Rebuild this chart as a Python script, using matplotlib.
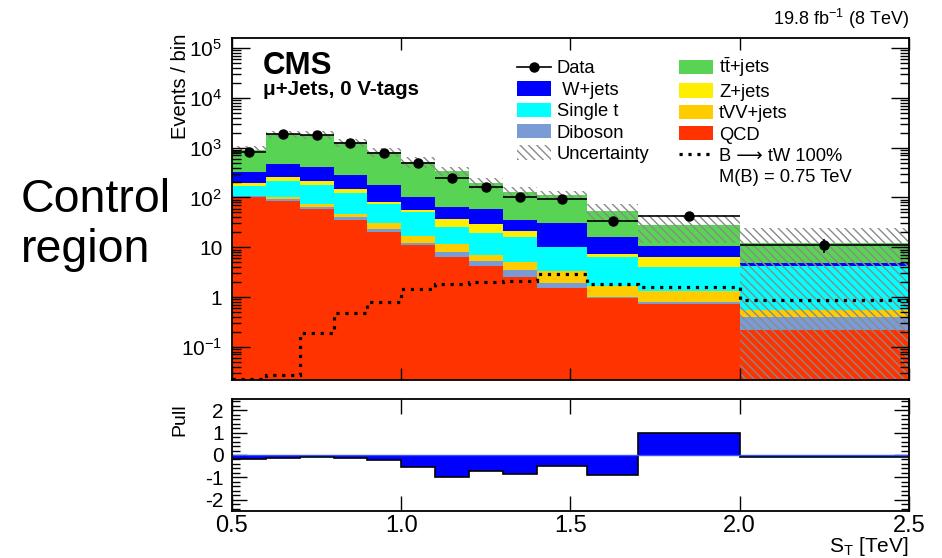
"""
S_T distribution in the mu+jets, 0 V-tag control region with pull panel.
"""

import matplotlib
matplotlib.use("Agg")
import matplotlib.pyplot as plt
import numpy as np
from matplotlib import font_manager
from matplotlib.lines import Line2D
from matplotlib.patches import Patch
from matplotlib.ticker import FixedLocator, LogLocator, MultipleLocator, NullFormatter

# Binning (TeV)
bin_edges = [0.5, 0.6, 0.7, 0.8, 0.9, 1.0, 1.1, 1.2, 1.3, 1.4, 1.55, 1.7, 2.0, 2.5]

# Background yields per bin, bottom of the stack first
qcd = [103, 86, 60, 36, 20.5, 11, 6.45, 4.2, 2.56, 1.5, 0.94, 0.71, 0.22]
diboson = [3, 7, 5, 4, 2.5, 1.3, 1.45, 1.1, 0.94, 0.38, 0.07, 0.07, 0.17]
tvv_jets = [2, 7, 8.5, 6.5, 7, 4.7, 3.5, 1.7, 1.5, 1.5, 0.65, 0.54, 0.16]
single_t = [64, 116, 101, 74.5, 43.5, 34, 13.6, 12, 10.8, 6.6, 4.8, 2.74, 3.7]
z_jets = [26, 39, 39, 24, 8.5, 5, 12, 10, 5.7, 0.1, 0.85, 2.4, 0.02]
w_jets = [132, 220, 201, 137, 96, 44, 26, 29.5, 13.5, 21, 8.9, 4.25, 0.64]
ttbar_jets = [590, 1395, 1405, 998, 637, 420, 282, 139, 95, 81, 37, 17.3, 7.1]

# Total background uncertainty (absolute, per bin)
bkg_unc = [150, 300, 300, 230, 150, 120, 70, 50, 33, 20, 20, 16, 12]

# Observed events
data = [830, 1860, 1800, 1250, 767, 484, 250, 164, 100, 93, 34, 43, 11]

# Signal: B -> tW 100%, M(B) = 0.75 TeV
signal = [0.0225, 0.027, 0.186, 0.47, 0.80, 1.43, 1.8, 2.0, 2.07, 2.9, 1.85, 1.61, 0.87]

# (data - bkg) / sigma
pull = [-0.18, -0.13, -0.09, -0.15, -0.24, -0.52, -0.98, -0.72, -0.87, -0.48, -0.9, 1.0, -0.07]

y_tick_vals = [0.1, 1, 10, 100, 1e3, 1e4, 1e5]
y_tick_labels = [r"$10^{-1}$", "1", "10", r"$10^{2}$", r"$10^{3}$", r"$10^{4}$", r"$10^{5}$"]
x_tick_vals = [0.5, 1.0, 1.5, 2.0, 2.5]
x_tick_labels = ["0.5", "1.0", "1.5", "2.0", "2.5"]
pull_tick_vals = [-2, -1, 0, 1, 2]
pull_tick_labels = ["-2", "-1", "0", "1", "2"]

FAMILY = ["Liberation Sans", "DejaVu Sans"]
installed = {f.name for f in font_manager.fontManager.ttflist}
NARROW = ["Liberation Sans Narrow", "DejaVu Sans"] if "Liberation Sans Narrow" in installed else FAMILY

plt.rcParams["font.family"] = FAMILY
plt.rcParams["mathtext.fontset"] = "custom"
plt.rcParams["mathtext.rm"] = "Liberation Sans"
plt.rcParams["mathtext.it"] = "Liberation Sans:italic"
plt.rcParams["mathtext.bf"] = "Liberation Sans:bold"
plt.rcParams["mathtext.default"] = "regular"
plt.rcParams["hatch.linewidth"] = 1.0

W, H = 942, 558
HATCH = "\\\\\\\\"
HATCH_COLOR = "#8a8a8a"


def fig_xy(x, y):
    return x / W, 1 - y / H


edges = np.array(bin_edges)
centers = 0.5 * (edges[1:] + edges[:-1])
half_w = 0.5 * np.diff(edges)

fig = plt.figure(figsize=(W / 100, H / 100), dpi=100)
ax = fig.add_axes([232 / W, 1 - 380 / H, 677 / W, 342 / H])
ax_pull = fig.add_axes([232 / W, 1 - 511 / H, 677 / W, 112 / H])

# Stacked backgrounds
layers = [
    (qcd, "#FF3300"),
    (diboson, "#7B9BD4"),
    (tvv_jets, "#FFCC00"),
    (single_t, "#00FFFF"),
    (z_jets, "#FFEE00"),
    (w_jets, "#0000FF"),
    (ttbar_jets, "#59D354"),
]
bottom = np.zeros(len(centers))
for vals, color in layers:
    top = bottom + np.array(vals)
    ax.stairs(top, edges, baseline=np.maximum(bottom, 1e-4), fill=True,
              color=color, lw=0)
    bottom = top
total = bottom

# Uncertainty band
unc = np.array(bkg_unc)
ax.stairs(total + unc, edges, baseline=np.clip(total - unc, 1e-4, None),
          fill=True, facecolor="none", edgecolor=HATCH_COLOR, hatch=HATCH, lw=0)

# Signal
sig_style = (0, (1.0, 1.8))
ax.stairs(signal, edges, baseline=None, color="k", lw=2.3, linestyle=sig_style)

# Data
data_arr = np.array(data, dtype=float)
ax.errorbar(centers, data_arr, xerr=half_w, yerr=np.sqrt(data_arr), fmt="o",
            color="k", ms=6.5, lw=1.2, capsize=0)

ax.set_yscale("log")
ax.set_xlim(0.5, 2.5)
ax.set_ylim(0.0215, 1.6e5)
ax.yaxis.set_major_locator(FixedLocator(y_tick_vals))
ax.set_yticklabels(y_tick_labels, fontsize=15)
ax.yaxis.set_minor_locator(LogLocator(base=10, subs=np.arange(2, 10), numticks=20))
ax.yaxis.set_minor_formatter(NullFormatter())
ax.set_xticks(x_tick_vals)
ax.tick_params(which="both", direction="in", top=True, right=True,
               labelbottom=False, width=1.0, color="k")
ax.tick_params(axis="y", which="major", length=13, pad=7)
ax.tick_params(axis="y", which="minor", length=6.5)
ax.tick_params(axis="x", which="major", length=8.5)
for sp in ax.spines.values():
    sp.set_linewidth(1.3)

# Legend
handles = [
    Line2D([], [], color="k", marker="o", ms=6.5, lw=1.2),
    Patch(facecolor="#0000FF", lw=0),
    Patch(facecolor="#00FFFF", lw=0),
    Patch(facecolor="#7B9BD4", lw=0),
    Patch(facecolor="none", edgecolor=HATCH_COLOR, hatch=HATCH, lw=0),
    Patch(facecolor="none", edgecolor="none", lw=0),
    Patch(facecolor="#59D354", lw=0),
    Patch(facecolor="#FFEE00", lw=0),
    Patch(facecolor="#FFCC00", lw=0),
    Patch(facecolor="#FF3300", lw=0),
    Line2D([], [], color="k", lw=2.3, linestyle=sig_style),
    Patch(facecolor="none", edgecolor="none", lw=0),
]
labels = ["Data", " W+jets", "Single t", "Diboson", "Uncertainty", "",
          r"t$\bar{\rm t}$+jets", "Z+jets", "tVV+jets", "QCD",
          "B \u27f6 tW 100%", "M(B) = 0.75 TeV"]
ax.legend(handles, labels, ncol=2, loc="upper left",
          bbox_to_anchor=fig_xy(517, 56), bbox_transform=fig.transFigure,
          frameon=False, borderpad=0, borderaxespad=0, fontsize=13.2,
          handlelength=1.85, handleheight=0.82, handletextpad=0.33,
          labelspacing=0.21, columnspacing=1.6)

# Pull panel
ax_pull.stairs(pull, edges, baseline=0, fill=True, color="#0000FF", lw=0)
ax_pull.axhline(0, color="#3355FF", lw=1.0)
ax_pull.stairs(pull, edges, baseline=None, color="k", lw=1.2)
ax_pull.set_xlim(0.5, 2.5)
ax_pull.set_ylim(-2.5, 2.5)
ax_pull.set_xticks(x_tick_vals)
ax_pull.set_xticklabels(x_tick_labels, family=NARROW, fontsize=17)
ax_pull.set_yticks(pull_tick_vals)
ax_pull.set_yticklabels(pull_tick_labels, family=NARROW, fontsize=15)
ax_pull.yaxis.set_minor_locator(MultipleLocator(0.2))
ax_pull.tick_params(which="both", direction="in", top=True, right=True,
                    width=1.0, color="k")
ax_pull.tick_params(axis="x", which="major", length=11, pad=3)
ax_pull.tick_params(axis="y", which="major", length=11, pad=6)
ax_pull.tick_params(axis="y", which="minor", length=5.5)
for sp in ax_pull.spines.values():
    sp.set_linewidth(1.3)

# Axis titles and labels
fig.text(*fig_xy(180, 34), "Events / bin", rotation=90, ha="center", va="top",
         fontsize=14.5)
fig.text(*fig_xy(180, 403), "Pull", rotation=90, ha="center", va="top",
         fontsize=14)
fig.text(*fig_xy(909, 552), r"S$_{\rm T}$ [TeV]", ha="right", va="baseline",
         family=NARROW, fontsize=15)
fig.text(*fig_xy(909, 25), r"19.8 fb$^{-1}$ (8 TeV)", ha="right",
         va="baseline", fontsize=13)
fig.text(*fig_xy(263, 74), "CMS", ha="left", va="baseline", fontsize=22.5,
         fontweight="bold")
fig.text(*fig_xy(263, 95), "\u03bc+Jets, 0 V-tags", ha="left", va="baseline",
         fontsize=14.8, fontweight="bold")
fig.text(*fig_xy(21, 211.7), "Control", ha="left", va="baseline", fontsize=33.5)
fig.text(*fig_xy(21, 261.7), "region", ha="left", va="baseline", fontsize=33.5)

fig.savefig("out.png", dpi=100)
